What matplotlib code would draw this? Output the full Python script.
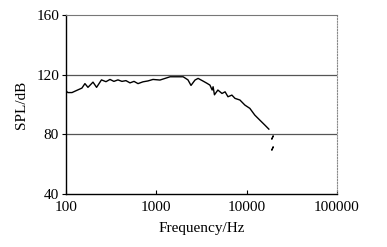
import matplotlib
matplotlib.use("Agg")
import matplotlib.pyplot as plt

freq = [100, 105, 116.5, 132, 150, 162, 175, 199, 218, 247, 277, 307, 339, 376, 416,
        461, 511, 566, 627, 711, 808, 918, 1097, 1250, 1420, 1980, 2240, 2420, 2680,
        2900, 3290, 3640, 3920, 4150, 4250, 4400, 4800, 5330, 5770, 6210, 6860, 7430,
        8420, 9560, 10850, 12300, 14000, 15900, 17600]
spl = [109, 108, 108, 109.5, 111, 114, 111.5, 115, 111.5, 116.5, 115.3, 116.8, 115.5,
       116.5, 115.5, 116, 114.5, 115.5, 114, 115.2, 115.8, 116.8, 116.4, 117.5, 118.6,
       118.6, 116.5, 112.8, 116.4, 117.5, 115.7, 114.2, 113, 109.7, 111.9, 106.5, 109.7,
       107.4, 108.5, 105.2, 106.3, 104.1, 103, 99.6, 97.4, 92.9, 89.5, 86.2, 83.5]
tail_freq = [19000, 19000]
tail_spl = [78, 71]

xticks = [100, 1000, 10000, 100000]
xticklabels = ["100", "1000", "10000", "100000"]
yticks = [40, 80, 120, 160]

plt.rcParams['font.family'] = ['Liberation Serif', 'DejaVu Serif']

fig = plt.figure(figsize=(3.87, 2.47), dpi=100)
ax = fig.add_axes([66/387, 1-194/247, (337-66)/387, (194-15)/247])

ax.plot(freq, spl, color='black', lw=1.0)
ax.plot(tail_freq, tail_spl, color='black', lw=0, marker=(2, 2, -25), ms=3, mew=0.9)

ax.set_xscale('log')
ax.set_xlim(100, 100000)
ax.set_ylim(40, 160)
ax.set_xticks(xticks)
ax.set_xticklabels(xticklabels)
ax.minorticks_off()
ax.set_yticks(yticks)

for y in [80, 120]:
    ax.axhline(y, color='#555555', lw=0.9)

ax.spines['top'].set_color('#777777')
ax.spines['top'].set_linestyle((0, (4, 1)))
ax.spines['right'].set_color('#888888')
ax.spines['right'].set_linestyle((0, (1, 1.5)))
ax.spines['right'].set_linewidth(0.8)
ax.spines['left'].set_linewidth(1.0)
ax.spines['bottom'].set_linewidth(1.0)

ax.tick_params(axis='x', direction='in', length=3, labelsize=11, pad=5)
ax.tick_params(axis='y', direction='out', length=3, labelsize=11, pad=2)

ax.set_xlabel("Frequency/Hz", fontsize=11, labelpad=6)
ax.set_ylabel("SPL/dB", fontsize=11, labelpad=6)

fig.savefig("out.png", dpi=100)
